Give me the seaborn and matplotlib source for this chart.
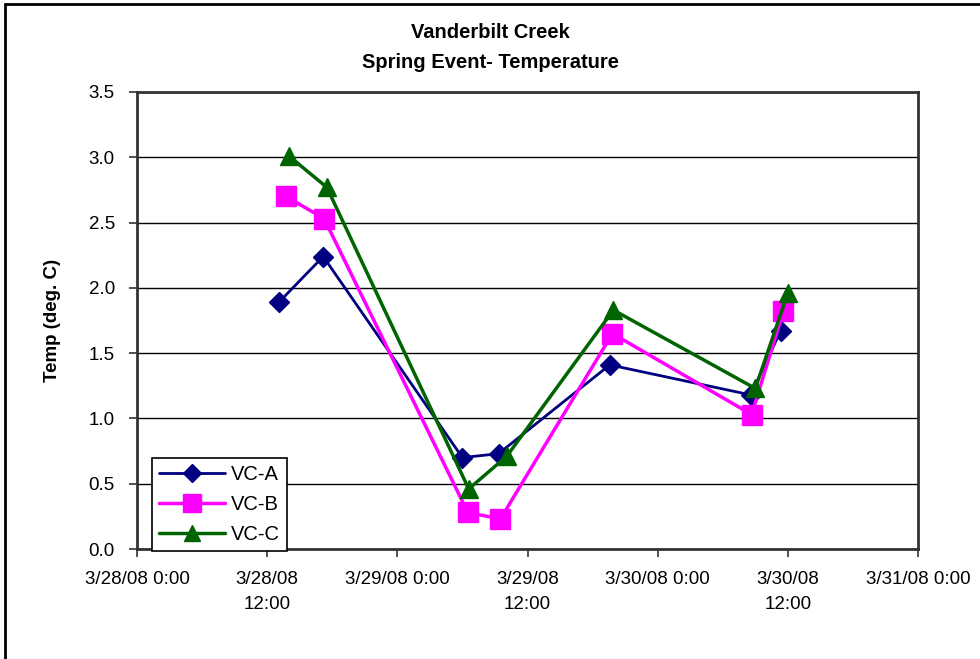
import matplotlib
matplotlib.use("Agg")
import matplotlib.pyplot as plt
from matplotlib.lines import Line2D
import numpy as np
import pandas as pd
import seaborn as sns

# Sampling times and temperatures (deg. C) for each station
times_a = ["2008-03-28 13:05", "2008-03-28 17:10", "2008-03-29 06:00", "2008-03-29 09:20",
           "2008-03-29 19:35", "2008-03-30 08:35", "2008-03-30 11:20"]
temp_a = [1.89, 2.24, 0.70, 0.73, 1.41, 1.18, 1.67]

times_b = ["2008-03-28 13:45", "2008-03-28 17:15", "2008-03-29 06:30", "2008-03-29 09:30",
           "2008-03-29 19:50", "2008-03-30 08:40", "2008-03-30 11:35"]
temp_b = [2.70, 2.53, 0.28, 0.23, 1.65, 1.03, 1.82]

times_c = ["2008-03-28 14:00", "2008-03-28 17:30", "2008-03-29 06:35", "2008-03-29 10:05",
           "2008-03-29 19:55", "2008-03-30 09:00", "2008-03-30 12:00"]
temp_c = [3.01, 2.77, 0.46, 0.71, 1.83, 1.23, 1.96]

series_names = ["VC-A", "VC-B", "VC-C"]
tick_times = ["2008-03-28 00:00", "2008-03-28 12:00", "2008-03-29 00:00", "2008-03-29 12:00",
              "2008-03-30 00:00", "2008-03-30 12:00", "2008-03-31 00:00"]
tick_labels = ["3/28/08 0:00", "3/28/08\n12:00", "3/29/08 0:00", "3/29/08\n12:00",
               "3/30/08 0:00", "3/30/08\n12:00", "3/31/08 0:00"]

sns.set_theme(style="white")
plt.rcParams["font.family"] = ["Liberation Sans", "DejaVu Sans"]
plt.rcParams["text.color"] = "black"
plt.rcParams["axes.labelcolor"] = "black"
plt.rcParams["xtick.color"] = "black"
plt.rcParams["ytick.color"] = "black"

W, H = 980, 659
fig = plt.figure(figsize=(W / 100, H / 100), dpi=100)
ax = fig.add_axes([137 / W, 1 - 549 / H, 781 / W, 457 / H])

styles = {
    "VC-A": dict(color="#000080", marker="D", markersize=10, lw=2.0),
    "VC-B": dict(color="#FF00FF", marker="s", markersize=14, lw=2.5),
    "VC-C": dict(color="#006400", marker="^", markersize=13, lw=2.5),
}
data = {
    "VC-A": (times_a, temp_a),
    "VC-B": (times_b, temp_b),
    "VC-C": (times_c, temp_c),
}

for name in series_names:
    t, v = data[name]
    df = pd.DataFrame({"time": pd.to_datetime(t), "temp": v})
    st = styles[name]
    sns.lineplot(data=df, x="time", y="temp", ax=ax, color=st["color"],
                 marker=st["marker"], markersize=st["markersize"],
                 markeredgecolor=st["color"], markeredgewidth=1,
                 linewidth=st["lw"], label=name, zorder=3)

# Axes limits and ticks
ax.set_xlim(pd.to_datetime(tick_times[0]), pd.to_datetime(tick_times[-1]))
ax.set_xticks(pd.to_datetime(tick_times))
ax.set_xticklabels(tick_labels, fontsize=13.5, linespacing=1.62, color="black")
ax.set_ylim(0, 3.5)
yt = np.arange(0, 3.51, 0.5)
ax.set_yticks(yt)
ax.set_yticklabels([f"{v:.1f}" for v in yt], fontsize=13.5, color="black")
ax.tick_params(axis="both", direction="out", length=6, width=1.2, color="#333333",
               bottom=True, left=True, labelcolor="black")
ax.tick_params(axis="x", pad=10)
ax.tick_params(axis="y", pad=10)

ax.grid(True, axis="y", color="black", linewidth=1)
ax.grid(False, axis="x")
ax.set_axisbelow(True)
for side, sp in ax.spines.items():
    sp.set_visible(True)
    sp.set_color("#333333")
    sp.set_linewidth(2)

ax.set_xlabel("")
ax.set_ylabel("Temp (deg. C)", fontsize=13.5, fontweight="bold", labelpad=20,
              color="black")

# Two-line chart title
fig.text(0.5, 1 - 33 / H, "Vanderbilt Creek", ha="center", va="center",
         fontsize=14.5, fontweight="bold", color="black")
fig.text(0.5, 1 - 62 / H, "Spring Event- Temperature", ha="center", va="center",
         fontsize=14.5, fontweight="bold", color="black")

leg = ax.legend(loc="lower left", bbox_to_anchor=(0.019, -0.004), fontsize=14.5,
                frameon=True, fancybox=False, shadow=False, framealpha=1,
                edgecolor="black", handlelength=3.3, handletextpad=0.3,
                borderpad=0.35, labelspacing=0.55, borderaxespad=0, markerscale=0.9)
leg.get_frame().set_linewidth(1.2)
for txt in leg.get_texts():
    txt.set_color("black")
leg.set_zorder(5)

# Outer chart border (top and left edges)
fig.add_artist(Line2D([5 / W, 5 / W], [0, 1 - 4 / H], color="black", lw=2,
                      transform=fig.transFigure))
fig.add_artist(Line2D([5 / W, 1], [1 - 4 / H, 1 - 4 / H], color="black", lw=2,
                      transform=fig.transFigure))

fig.savefig("out.png", dpi=100, facecolor="white")
